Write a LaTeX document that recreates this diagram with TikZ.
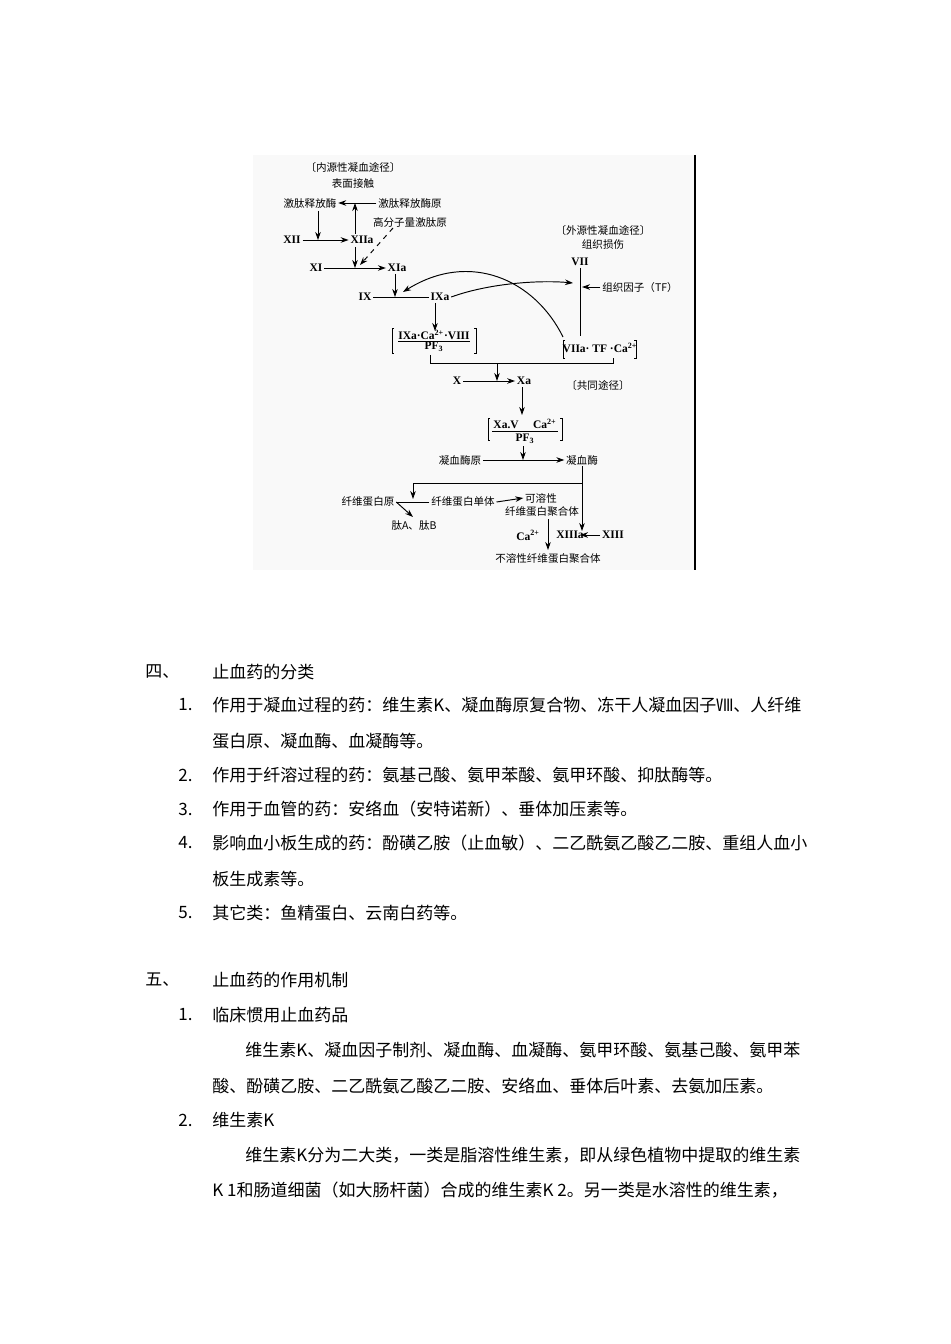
\documentclass[tikz,border=0pt]{standalone}
\usepackage{fontspec}
\setmainfont{Noto Sans CJK SC}
\newfontfamily\dgf{Noto Sans CJK SC}
\newfontfamily\rmf{Liberation Serif}
\usetikzlibrary{arrows.meta}
\newcommand\supx[1]{\textsuperscript{\rmf #1}}
\newcommand\subx[1]{\textsubscript{\rmf #1}}
\begin{document}
\begin{tikzpicture}[x=0.6265pt,y=-0.6265pt,
  dg/.style={inner sep=1pt,font=\dgf\fontsize{6.6}{7.5}\selectfont},
  rn/.style={inner sep=1pt,font=\rmf\bfseries\fontsize{7.2}{8}\selectfont},
  body/.style={anchor=west,inner sep=0pt,font=\fontsize{10.65}{12}\selectfont},
  ar/.style={-{Stealth[length=5pt,width=3.5pt]},line width=0.6pt},
  ln/.style={line width=0.6pt}]
\useasboundingbox (0,0) rectangle (950,1344);
\fill[gray!5] (253,155) rectangle (695,570);
\draw[line width=0.8pt] (695,155) -- (695,570);
% intrinsic
\node[dg] (t1) at (353,167) {〔内源性凝血途径〕};
\node[dg] (t2) at (353,184) {表面接触};
\node[dg] (kal) at (310,203) {激肽释放酶};
\node[dg] (pk) at (410,203) {激肽释放酶原};
\node[dg] (hk) at (410,222) {高分子量激肽原};
\node[rn] (f12) at (292,240) {XII};
\node[rn] (f12a) at (362,240) {XIIa};
\node[rn] (f11) at (316,268) {XI};
\node[rn] (f11a) at (397,268) {XIa};
\node[rn] (f9) at (365,297) {IX};
\node[rn] (f9a) at (440,297) {IXa};
\coordinate (c1) at (355,203);
\draw[ar] (pk.west) -- (kal.east);
\draw[ar] (355,234) -- (c1);
\draw[ar] (318,211) -- (318,240);
\draw[ar] (f12.east) -- (f12a.west);
\draw[ar] (355,247) -- (355,268);
\draw[ar] (f11.east) -- (f11a.west);
\draw[ar,dashed] (393,228) -- (360,265);
\draw[ar] (395,274) -- (395,297);
\draw[ln] (f9.east) -- (f9a.west);
\draw[ar] (435,303) -- (435,331);
% box 1
\node[rn] (b1t) at (434,335) {IXa·Ca\supx{2+}·VIII};
\node[rn] (b1b) at (434,347) {PF\subx{3}};
\draw[ln] (398,341) -- (470,341);
\draw[ln] (394,328) -- (392,328) -- (392,353) -- (394,353);
\draw[ln] (474,328) -- (476,328) -- (476,353) -- (474,353);
% extrinsic
\node[dg] (e1) at (603,230) {〔外源性凝血途径〕};
\node[dg] (e2) at (603,245) {组织损伤};
\node[rn] (f7) at (580,262) {VII};
\node[dg] (tf) at (640,287) {组织因子（TF）};
\node[rn] (b2) at (600,348) {VIIa· TF ·Ca\supx{2+}};
\draw[ln] (565,340) -- (563,340) -- (563,358) -- (565,358);
\draw[ln] (634,340) -- (636,340) -- (636,358) -- (634,358);
\draw[ln] (f7.south) -- (580,336);
\draw[ar] (tf.west) -- (582,287);
\draw[ar] (f9a.east) .. controls (490,283) and (540,280) .. (573,283);
\draw[ar] (563,337) .. controls (535,280) and (470,250) .. (403,292);
% join
\draw[ln] (430,355) -- (430,363) -- (613,363) -- (613,358);
\node[rn] (f10) at (457,381) {X};
\node[rn] (f10a) at (524,381) {Xa};
\draw[ar] (f10.east) -- (f10a.west);
\draw[ar] (497,363) -- (497,381);
\node[dg] (cm) at (598,385) {〔共同途径〕};
\draw[ar] (522,387) -- (522,415);
% box 3
\node[rn] (b3t) at (525,424) {Xa.V \quad Ca\supx{2+}};
\node[rn] (b3b) at (525,439) {PF\subx{3}};
\draw[ln] (492,431) -- (558,431);
\draw[ln] (490,418) -- (488,418) -- (488,440) -- (490,440);
\draw[ln] (560,418) -- (562,418) -- (562,440) -- (560,440);
\node[dg] (pt) at (460,460) {凝血酶原};
\node[dg] (th) at (582,460) {凝血酶};
\draw[ar] (pt.east) -- (th.west);
\draw[ar] (523,446) -- (523,460);
\draw[ln] (582,466) -- (582,483) -- (413,483);
\draw[ar] (413,483) -- (413,499);
\draw[ar] (582,483) -- (582,531);
\node[dg] (fg) at (368,502) {纤维蛋白原};
\node[dg] (fm) at (463,502) {纤维蛋白单体};
\node[dg] (sp1) at (541,498) {可溶性};
\node[dg] (sp2) at (542,512) {纤维蛋白聚合体};
\node[dg] (pab) at (414,526) {肽A、肽B};
\draw[ln] (fm.west) -- (fg.east);
\draw[ar] (fg.east) -- (413,517);
\draw[ar] (fm.east) -- (sp1.west);
\node[rn] (ca) at (528,535) {Ca\supx{2+}};
\draw[ar] (548,519) -- (548,550);
\node[rn] (f13a) at (570,535) {XIIIa};
\node[rn] (f13) at (613,535) {XIII};
\draw[ar] (f13.west) -- (580,535);
\node[dg] (ins) at (548,559) {不溶性纤维蛋白聚合体};
% text
\node[body] (s4) at (145,672) {四、};
\node[body] (s4t) at (212,672) {止血药的分类};
\node[body] (n1) at (178,705) {1.};
\node[body] (l1) at (212,705) {作用于凝血过程的药：维生素K、凝血酶原复合物、冻干人凝血因子Ⅷ、人纤维};
\node[body] (l1b) at (212,741) {蛋白原、凝血酶、血凝酶等。};
\node[body] (n2) at (178,775) {2.};
\node[body] (l2) at (212,775) {作用于纤溶过程的药：氨基己酸、氨甲苯酸、氨甲环酸、抑肽酶等。};
\node[body] (n3) at (178,809) {3.};
\node[body] (l3) at (212,809) {作用于血管的药：安络血（安特诺新）、垂体加压素等。};
\node[body] (n4) at (178,843) {4.};
\node[body] (l4) at (212,843) {影响血小板生成的药：酚磺乙胺（止血敏）、二乙酰氨乙酸乙二胺、重组人血小};
\node[body] (l4b) at (212,879) {板生成素等。};
\node[body] (n5) at (178,913) {5.};
\node[body] (l5) at (212,913) {其它类：鱼精蛋白、云南白药等。};
\node[body] (s5) at (145,980) {五、};
\node[body] (s5t) at (212,980) {止血药的作用机制};
\node[body] (m1) at (178,1015) {1.};
\node[body] (m1t) at (212,1015) {临床惯用止血药品};
\node[body] (m1a) at (245,1050) {维生素K、凝血因子制剂、凝血酶、血凝酶、氨甲环酸、氨基己酸、氨甲苯};
\node[body] (m1b) at (212,1086) {酸、酚磺乙胺、二乙酰氨乙酸乙二胺、安络血、垂体后叶素、去氨加压素。};
\node[body] (m2) at (178,1120) {2.};
\node[body] (m2t) at (212,1120) {维生素K};
\node[body] (m2a) at (245,1155) {维生素K分为二大类，一类是脂溶性维生素，即从绿色植物中提取的维生素};
\node[body] (m2b) at (212,1190) {K 1和肠道细菌（如大肠杆菌）合成的维生素K 2。另一类是水溶性的维生素，};
\end{tikzpicture}
\end{document}
